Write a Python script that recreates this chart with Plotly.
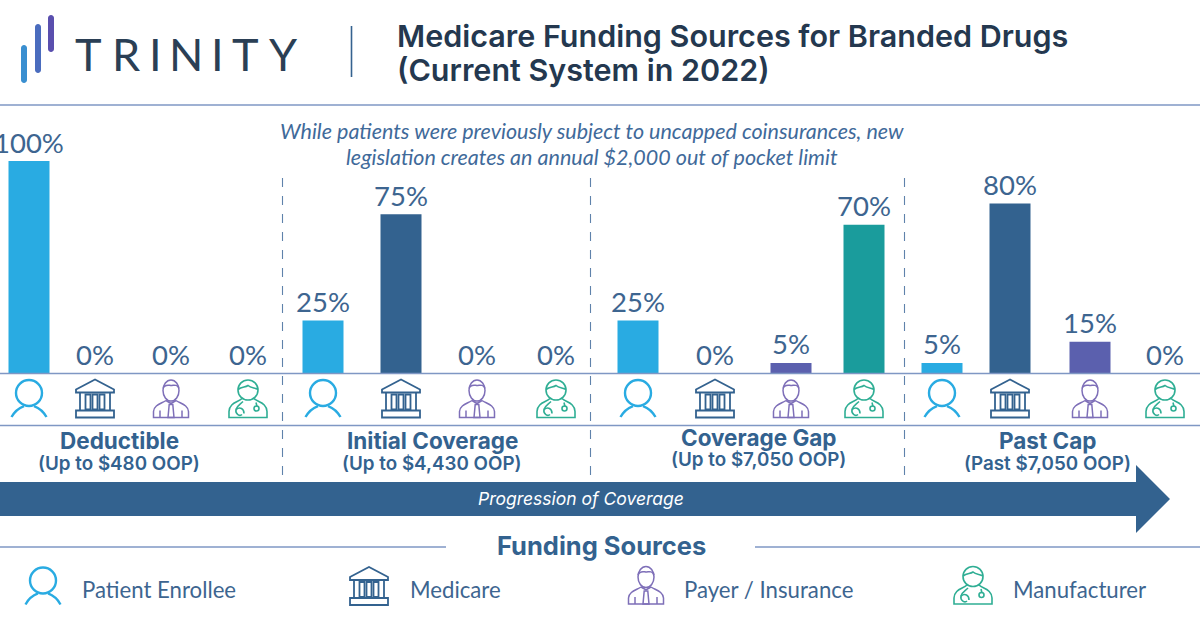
import re
import plotly.graph_objects as go

# ---------- data ----------
sources = ["Patient Enrollee", "Medicare", "Payer / Insurance", "Manufacturer"]
stages = ["Deductible", "Initial Coverage", "Coverage Gap", "Past Cap"]
stage_limits = ["(Up to $480 OOP)", "(Up to $4,430 OOP)", "(Up to $7,050 OOP)", "(Past $7,050 OOP)"]
patient_share = [100, 25, 25, 5]
medicare_share = [0, 75, 0, 80]
payer_share = [0, 0, 5, 15]
manufacturer_share = [0, 0, 70, 0]

title_lines = ["Medicare Funding Sources for Branded Drugs", "(Current System in 2022)"]
note_lines = ["While patients were previously subject to uncapped coinsurances, new",
              "legislation creates an annual $2,000 out of pocket limit"]

# ---------- layout constants ----------
W, H = 1200, 628
BASE_Y = 373.5
PX_PER_PCT = 2.125
patient_x = [29, 323, 638, 942]
medicare_x = [95, 401, 715, 1010]
payer_x = [171, 477, 791, 1090]
manufacturer_x = [248, 556, 864, 1165]
C_PAT, C_MED, C_PAY, C_MAN = "#29ABE2", "#33628F", "#5B60AE", "#1A9C9C"
C_PAY_ICON, C_MAN_ICON = "#7E6FB8", "#2FAE94"
C_TEXT = "#3D6590"
C_DARK = "#2B3F55"
C_RULE = "#7F97C4"
BODY = "Lato"
HEAD = "Inter"


def px_path(d, cx=0, cy=0, s=1.0):
    toks = re.findall(r"[MLCQZ]|-?\d+\.?\d*", d)
    out, is_x = [], True
    for t in toks:
        if t in "MLCQZ":
            out.append(t)
            is_x = True
        else:
            v = float(t)
            if is_x:
                out.append(f"{(cx + s * v) / W:.5f}")
            else:
                out.append(f"{1 - (cy + s * v) / H:.5f}")
            is_x = not is_x
    return " ".join(out)


def shp(d, cx=0, cy=0, s=1.0, color="#000", width=2.0, fill="rgba(0,0,0,0)"):
    return dict(type="path", xref="paper", yref="paper", path=px_path(d, cx, cy, s),
                line=dict(color=color, width=width), fillcolor=fill, layer="above")


def circle(x, y, r):
    k = 0.5523 * r
    return (f"M {x-r} {y} C {x-r} {y-k} {x-k} {y-r} {x} {y-r} C {x+k} {y-r} {x+r} {y-k} {x+r} {y} "
            f"C {x+r} {y+k} {x+k} {y+r} {x} {y+r} C {x-k} {y+r} {x-r} {y+k} {x-r} {y} Z")


def ellipse(x, y, rx, ry):
    kx, ky = 0.5523 * rx, 0.5523 * ry
    return (f"M {x-rx} {y} C {x-rx} {y-ky} {x-kx} {y-ry} {x} {y-ry} C {x+kx} {y-ry} {x+rx} {y-ky} {x+rx} {y} "
            f"C {x+rx} {y+ky} {x+kx} {y+ry} {x} {y+ry} C {x-kx} {y+ry} {x-rx} {y+ky} {x-rx} {y} Z")


def icon_person(cx, cy):
    return [shp(circle(0, -5.5, 13), cx, cy, color=C_PAT, width=2.4),
            shp("M -17.5 18.5 C -14 12 -9 9 -5 7.5", cx, cy, color=C_PAT, width=2.4),
            shp("M 17.5 18.5 C 14 12 9 9 5 7.5", cx, cy, color=C_PAT, width=2.4)]


def icon_bank(cx, cy):
    parts = ["M -19 -6 L -19 -9 L 0 -19 L 19 -9 L 19 -6 Z",
             "M -15 -6 L -15 12", "M 15 -6 L 15 12",
             "M -19 19 L -19 12 L 19 12 L 19 19 Z",
             "M -9.5 -4 L -4.5 -4 L -4.5 11 L -9.5 11 Z",
             "M -2.5 -4 L 2.5 -4 L 2.5 11 L -2.5 11 Z",
             "M 4.5 -4 L 9.5 -4 L 9.5 11 L 4.5 11 Z"]
    return [shp(p, cx, cy, color=C_MED, width=1.8) for p in parts]


def icon_payer(cx, cy):
    parts = [ellipse(0, -8, 8, 10.5),
             "M -8 -10 C -6 -15 -2 -13 0 -13 C 3 -13 6 -15 8 -10",
             "M -5 2 C -9 5 -17 6 -17.5 13 L -17.5 19 L 17.5 19 L 17.5 13 C 17 6 9 5 5 2",
             "M -5 2 L 0 5 L 5 2",
             "M -1.8 6 L 1.8 6 L 3 19 L -3 19 Z",
             "M -11 12 L -11 19", "M 11 12 L 11 19"]
    return [shp(p, cx, cy, color=C_PAY_ICON, width=1.5) for p in parts]


def icon_doctor(cx, cy):
    parts = [circle(0, -8.5, 10),
             "M -10 -9 C -6 -12 -3 -11 0 -13 C 3 -10 7 -11 10 -9",
             "M -6 0 C -10 4 -18.5 4 -19 13 L -19 19 L 19 19 L 19 13 C 18.5 4 10 4 6 0",
             "M -5 3 C -8 6 -11 7 -12 11 C -13 16 -8 18 -6 16",
             "M -12 11 C -8 8 -4 10 -4 15",
             "M 8 4 L 9 8",
             circle(8.5, 10, 2.5)]
    return [shp(p, cx, cy, color=C_MAN_ICON, width=1.6) for p in parts]


def capsule(x0, x1, y0, y1):
    r = (x1 - x0) / 2
    xm = (x0 + x1) / 2
    k = 0.5523 * r
    return (f"M {x0} {y0+r} C {x0} {y0+r-k} {xm-k} {y0} {xm} {y0} C {xm+k} {y0} {x1} {y0+r-k} {x1} {y0+r} "
            f"L {x1} {y1-r} C {x1} {y1-r+k} {xm+k} {y1} {xm} {y1} C {xm-k} {y1} {x0} {y1-r+k} {x0} {y1-r} Z")


def hline(x0, x1, y, color=C_RULE, width=1.6):
    return dict(type="line", xref="paper", yref="paper", x0=x0 / W, x1=x1 / W, y0=1 - y / H, y1=1 - y / H,
                line=dict(color=color, width=width), layer="above")


def vline(x, y0, y1, color, width=1.2, dash="solid"):
    return dict(type="line", xref="paper", yref="paper", x0=x / W, x1=x / W, y0=1 - y0 / H, y1=1 - y1 / H,
                line=dict(color=color, width=width, dash=dash), layer="above")


def txt(s, x, y, size, color=C_TEXT, family=BODY, weight=400, style="normal", anchor="center"):
    return dict(text=s, xref="paper", yref="paper", x=x / W, y=1 - y / H, xanchor=anchor, yanchor="middle",
                showarrow=False, font=dict(family=family, size=size, color=color, weight=weight, style=style))


# ---------- bars ----------
fig = go.Figure()
series = [(sources[0], patient_x, patient_share, C_PAT), (sources[1], medicare_x, medicare_share, C_MED),
          (sources[2], payer_x, payer_share, C_PAY), (sources[3], manufacturer_x, manufacturer_share, C_MAN)]
ann = []
for name, xs, vals, col in series:
    fig.add_trace(go.Bar(name=name, x=xs, y=vals, width=41, marker=dict(color=col, line=dict(width=0)),
                         cliponaxis=False, showlegend=False))
    for x, v in zip(xs, vals):
        ann.append(dict(text=f"{v}%", x=x, y=v, xref="x", yref="y", showarrow=False, yanchor="middle",
                        xanchor="center", yshift=19, font=dict(family=BODY, size=27.5, color=C_TEXT)))

# ---------- shapes ----------
shapes = [hline(0, 1200, 105), hline(0, 1200, BASE_Y), hline(0, 1200, 425.5),
          hline(0, 446, 547), hline(755, 1200, 547),
          vline(351.5, 26, 77, "#35628F", 1.6)]
for x in (282.5, 590.5, 904.5):
    shapes.append(vline(x, 178, 480, "#5F82AB", 1.1, "dash"))
for x in patient_x:
    shapes += icon_person(x, 398.5)
for x in medicare_x:
    shapes += icon_bank(x, 398.5)
for x in payer_x:
    shapes += icon_payer(x, 398.5)
for x in manufacturer_x:
    shapes += icon_doctor(x, 398.5)
shapes += icon_person(43, 586) + icon_bank(369, 586) + icon_payer(646, 585) + icon_doctor(973, 585)
shapes.append(shp("M 0 482 L 1136 482 L 1136 465 L 1170 499 L 1136 533 L 1136 516 L 0 516 Z",
                  color="#33628F", width=0, fill="#33628F"))
shapes.append(shp(capsule(21, 27, 45, 83), color="#3A8FD0", width=0, fill="#3A8FD0"))
shapes.append(shp(capsule(35, 41, 24, 73), color="#4A6CBE", width=0, fill="#4A6CBE"))
shapes.append(shp(capsule(48, 54, 15, 52), color="#5A4FAE", width=0, fill="#5A4FAE"))

# ---------- text ----------
for ch, x in zip("TRINITY", (88, 126, 155, 186, 217, 245, 283)):
    ann.append(txt(ch, x, 54, 45, C_DARK, "Lato", 400))
ann.append(txt(title_lines[0], 395, 35, 30.5, "#24384F", HEAD, 600, anchor="left"))
ann.append(txt(title_lines[1], 395, 70, 30.5, "#24384F", HEAD, 600, anchor="left"))
ann.append(txt(note_lines[0], 592, 131, 21.5, "#3F6A9A", BODY, 400, "italic"))
ann.append(txt(note_lines[1], 592, 157, 21.5, "#3F6A9A", BODY, 400, "italic"))
stage_pos = [(119, 440, 464), (432, 440, 464), (759, 437, 460), (1047, 440, 464)]
for name, lim, (x, y1, y2) in zip(stages, stage_limits, stage_pos):
    ann.append(txt(name, x, y1, 22.5, C_MED, HEAD, 700))
    ann.append(txt(lim, x, y2, 18.8, C_MED, HEAD, 600))
ann.append(txt("Progression of Coverage", 581, 498, 17.5, "#FFFFFF", HEAD, 400, "italic"))
ann.append(txt("Funding Sources", 601, 545, 25.5, C_MED, HEAD, 700))
for s, x in zip(sources, (80, 408, 682, 1011)):
    ann.append(txt(s, x, 589, 22.2, C_TEXT, BODY, 400, anchor="left"))

fig.update_layout(
    width=W, height=H, margin=dict(l=0, r=0, t=0, b=0), autosize=False,
    paper_bgcolor="#FFFFFF", plot_bgcolor="rgba(0,0,0,0)", barmode="overlay",
    xaxis=dict(range=[0, W], visible=False, domain=[0, 1], fixedrange=True),
    yaxis=dict(range=[0, BASE_Y / PX_PER_PCT], visible=False, domain=[1 - BASE_Y / H, 1], fixedrange=True),
    shapes=shapes, annotations=ann, hovermode=False,
)
fig.write_html("out.html", config=dict(displayModeBar=False),
               post_script="document.body.style.margin='0';document.documentElement.style.overflow='hidden';")
